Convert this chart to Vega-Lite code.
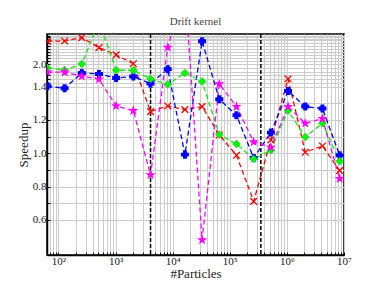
{
  "$schema": "https://vega.github.io/schema/vega-lite/v6.json",
  "width": 297,
  "height": 221,
  "autosize": "none",
  "padding": {"left": 47, "top": 34, "right": 38, "bottom": 32},
  "background": "white",
  "config": {
    "font": "Liberation Serif",
    "view": {"stroke": "black", "strokeWidth": 1.5},
    "axis": {"grid": true, "gridColor": "#cccccc", "gridWidth": 1, "domainColor": "black", "domainWidth": 1.5, "tickColor": "black", "labelFont": "Liberation Serif", "titleFont": "Liberation Serif", "labelColor": "#222", "titleColor": "#222", "titleFontWeight": "normal"}
  },
  "title": {"text": "Drift kernel", "fontSize": 11, "fontWeight": "normal", "color": "#444", "font": "Liberation Serif", "offset": 3},
  "datasets": {
    "speed": [
      {"n": 64, "series": "red", "speedup": 2.76},
      {"n": 128, "series": "red", "speedup": 2.77},
      {"n": 256, "series": "red", "speedup": 2.88},
      {"n": 512, "series": "red", "speedup": 2.55},
      {"n": 1024, "series": "red", "speedup": 2.31},
      {"n": 2048, "series": "red", "speedup": 2.02},
      {"n": 4096, "series": "red", "speedup": 1.25},
      {"n": 8192, "series": "red", "speedup": 1.284},
      {"n": 16384, "series": "red", "speedup": 1.262},
      {"n": 32768, "series": "red", "speedup": 1.28},
      {"n": 65536, "series": "red", "speedup": 1.11},
      {"n": 131072, "series": "red", "speedup": 0.988},
      {"n": 262144, "series": "red", "speedup": 0.712},
      {"n": 524288, "series": "red", "speedup": 1.08},
      {"n": 1048576, "series": "red", "speedup": 1.61},
      {"n": 2097152, "series": "red", "speedup": 1.006},
      {"n": 4194304, "series": "red", "speedup": 1.044},
      {"n": 8388608, "series": "red", "speedup": 0.896},
      {"n": 64, "series": "blue", "speedup": 1.41},
      {"n": 128, "series": "blue", "speedup": 1.39},
      {"n": 256, "series": "blue", "speedup": 1.766},
      {"n": 512, "series": "blue", "speedup": 1.74},
      {"n": 1024, "series": "blue", "speedup": 1.63},
      {"n": 2048, "series": "blue", "speedup": 1.67},
      {"n": 4096, "series": "blue", "speedup": 1.48},
      {"n": 8192, "series": "blue", "speedup": 1.87},
      {"n": 16384, "series": "blue", "speedup": 0.992},
      {"n": 32768, "series": "blue", "speedup": 2.76},
      {"n": 65536, "series": "blue", "speedup": 1.324},
      {"n": 131072, "series": "blue", "speedup": 1.228},
      {"n": 262144, "series": "blue", "speedup": 0.972},
      {"n": 524288, "series": "blue", "speedup": 1.124},
      {"n": 1048576, "series": "blue", "speedup": 1.374},
      {"n": 2097152, "series": "blue", "speedup": 1.28},
      {"n": 4194304, "series": "blue", "speedup": 1.268},
      {"n": 8388608, "series": "blue", "speedup": 0.988},
      {"n": 64, "series": "green", "speedup": 1.9},
      {"n": 128, "series": "green", "speedup": 1.847},
      {"n": 256, "series": "green", "speedup": 2.01},
      {"n": 512, "series": "green", "speedup": 3.4},
      {"n": 1024, "series": "green", "speedup": 1.84},
      {"n": 2048, "series": "green", "speedup": 1.84},
      {"n": 4096, "series": "green", "speedup": 1.61},
      {"n": 8192, "series": "green", "speedup": 1.46},
      {"n": 16384, "series": "green", "speedup": 1.766},
      {"n": 32768, "series": "green", "speedup": 1.54},
      {"n": 65536, "series": "green", "speedup": 1.112},
      {"n": 131072, "series": "green", "speedup": 1.056},
      {"n": 262144, "series": "green", "speedup": 0.966},
      {"n": 524288, "series": "green", "speedup": 1.018},
      {"n": 1048576, "series": "green", "speedup": 1.256},
      {"n": 2097152, "series": "green", "speedup": 1.098},
      {"n": 4194304, "series": "green", "speedup": 1.18},
      {"n": 8388608, "series": "green", "speedup": 0.952},
      {"n": 64, "series": "magenta", "speedup": 1.79},
      {"n": 128, "series": "magenta", "speedup": 1.79},
      {"n": 256, "series": "magenta", "speedup": 1.68},
      {"n": 512, "series": "magenta", "speedup": 1.6},
      {"n": 1024, "series": "magenta", "speedup": 1.284},
      {"n": 2048, "series": "magenta", "speedup": 1.256},
      {"n": 4096, "series": "magenta", "speedup": 0.87},
      {"n": 8192, "series": "magenta", "speedup": 2.56},
      {"n": 16384, "series": "magenta", "speedup": 4.6},
      {"n": 32768, "series": "magenta", "speedup": 0.48},
      {"n": 65536, "series": "magenta", "speedup": 1.47},
      {"n": 131072, "series": "magenta", "speedup": 1.28},
      {"n": 262144, "series": "magenta", "speedup": 1.068},
      {"n": 524288, "series": "magenta", "speedup": 1.036},
      {"n": 1048576, "series": "magenta", "speedup": 1.28},
      {"n": 2097152, "series": "magenta", "speedup": 1.18},
      {"n": 4194304, "series": "magenta", "speedup": 1.208},
      {"n": 8388608, "series": "magenta", "speedup": 0.848}
    ],
    "marks": [{"n": 4096}, {"n": 350000}]
  },
  "encoding": {
    "x": {
      "field": "n", "type": "quantitative",
      "scale": {"type": "log", "domain": [63, 10000000], "nice": false},
      "axis": {
        "title": "#Particles", "titleFontSize": 13, "titlePadding": 1,
        "values": [70,80,90,100,200,300,400,500,600,700,800,900,1000,2000,3000,4000,5000,6000,7000,8000,9000,10000,20000,30000,40000,50000,60000,70000,80000,90000,100000,200000,300000,400000,500000,600000,700000,800000,900000,1000000,2000000,3000000,4000000,5000000,6000000,7000000,8000000,9000000,10000000],
        "labelExpr": "datum.value == 100 ? '10²' : datum.value == 1000 ? '10³' : datum.value == 10000 ? '10⁴' : datum.value == 100000 ? '10⁵' : datum.value == 1000000 ? '10⁶' : datum.value == 10000000 ? '10⁷' : ''",
        "labelFontSize": 11, "labelPadding": 3, "tickSize": -3, "labelFlush": false, "labelOverlap": false
      }
    },
    "y": {
      "field": "speedup", "type": "quantitative",
      "scale": {"type": "linear", "domain": [0.39, 1.4, 2.0, 3.0], "range": [221, 52.6, 30.3, 0], "nice": false, "zero": false},
      "axis": {
        "title": "Speedup", "titleFontSize": 13, "titlePadding": 2,
        "values": [0.6,0.7,0.8,0.9,1.0,1.1,1.2,1.3,1.4,1.5,1.6,1.7,1.8,1.9,2.0,2.1,2.2,2.3,2.4,2.5,2.6,2.7,2.8,2.85,2.9,2.95],
        "labelExpr": "indexof([0.6,0.8,1,1.2,1.4,2], datum.value) >= 0 ? format(datum.value, '.1f') : ''",
        "labelFontSize": 11, "labelPadding": 4, "tickSize": -3, "labelOverlap": false, "labelFlush": false
      }
    }
  },
  "layer": [
    {
      "data": {"name": "marks"},
      "mark": {"type": "rule", "color": "black", "strokeDash": [4, 2], "strokeWidth": 1.5},
      "encoding": {"y": null}
    },
    {
      "data": {"name": "speed"},
      "mark": {"type": "line", "strokeDash": [5, 3], "strokeWidth": 1.3, "clip": true},
      "encoding": {
        "color": {"field": "series", "type": "nominal", "scale": {"domain": ["red", "blue", "green", "magenta"], "range": ["#ff0000", "#0000ff", "#11ee11", "#ff00ff"]}, "legend": null}
      }
    },
    {
      "data": {"name": "speed"},
      "mark": {"type": "point", "filled": true, "size": 45, "opacity": 1, "strokeWidth": 1.3, "clip": true},
      "encoding": {
        "color": {"field": "series", "type": "nominal", "scale": {"domain": ["red", "blue", "green", "magenta"], "range": ["#ff0000", "#0000ff", "#11ee11", "#ff00ff"]}, "legend": null},
        "stroke": {"field": "series", "type": "nominal", "scale": {"domain": ["red", "blue", "green", "magenta"], "range": ["#ff0000", "#0000ff", "#11ee11", "#ff00ff"]}, "legend": null},
        "shape": {"field": "series", "type": "nominal", "scale": {"domain": ["red", "blue", "green", "magenta"], "range": ["M-1,-1L1,1M1,-1L-1,1", "cross", "diamond", "M0,-1L0.235,-0.324L0.951,-0.309L0.38,0.124L0.588,0.809L0,0.4L-0.588,0.809L-0.38,0.124L-0.951,-0.309L-0.235,-0.324Z"]}, "legend": null}
      }
    }
  ]
}
